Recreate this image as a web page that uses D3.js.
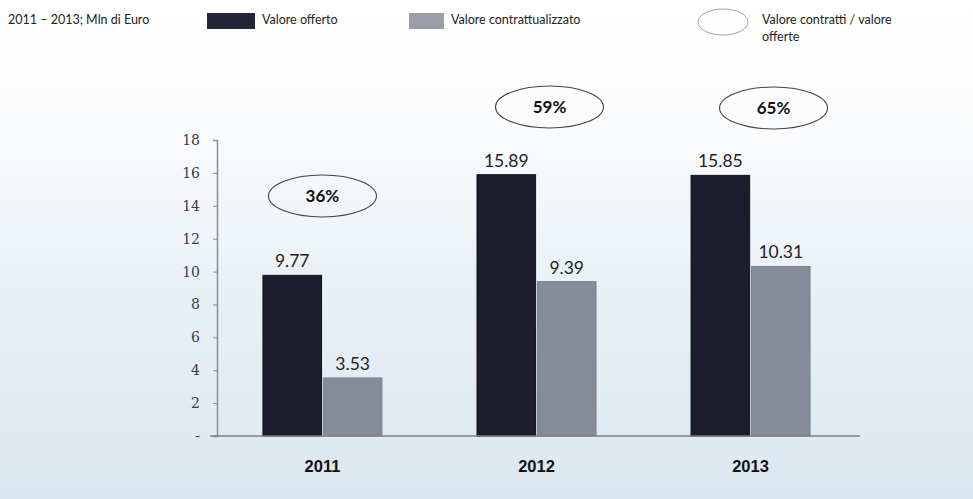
<!DOCTYPE html>
<html><head><meta charset="utf-8">
<script src="https://cdn.jsdelivr.net/npm/d3@7"></script>
<style>body{margin:0;background:#fff}svg{display:block}</style>
</head><body>
<svg id="c" width="973" height="499"></svg>
<script>
const years = ["2011","2012","2013"];
const offerto = [9.77, 15.89, 15.85];
const contratt = [3.53, 9.39, 10.31];
const ratios = ["36%","59%","65%"];
const yTicks = [0,2,4,6,8,10,12,14,16,18];
const seriesNames = ["Valore offerto","Valore contrattualizzato"];

const svg = d3.select("#c");
const defs = svg.append("defs");
const g = defs.append("linearGradient").attr("id","bg").attr("x1",0).attr("y1",0).attr("x2",0).attr("y2",1);
g.append("stop").attr("offset","0%").attr("stop-color","#ffffff");
g.append("stop").attr("offset","25%").attr("stop-color","#fbfcfd");
g.append("stop").attr("offset","60%").attr("stop-color","#e8f0f6");
g.append("stop").attr("offset","100%").attr("stop-color","#dbe7f0");
svg.append("rect").attr("width",973).attr("height",499).attr("fill","url(#bg)");

const y = d3.scaleLinear().domain([0,18]).range([436,140]);
const x0 = d3.scaleBand().domain(years).range([215,858]).paddingInner(0.444).paddingOuter(0.224);
const x1 = d3.scaleBand().domain([0,1]).range([0,x0.bandwidth()]).paddingInner(0.03);
const colors = ["#1c1c2c","#878b99"];

// axes
const yAxis = d3.axisLeft(y).tickValues(yTicks).tickSize(4).tickFormat(d => d===0 ? "-" : d);
const ya = svg.append("g").attr("transform","translate(217,0)").call(yAxis);
ya.select(".domain").attr("stroke","#8a8d95").attr("stroke-width",1.5);
ya.selectAll(".tick line").attr("stroke","#8a8d95");
ya.selectAll(".tick text").attr("font-family","DejaVu Serif, serif").attr("font-size",14).attr("fill","#3a3a44").attr("x",-17);

years.forEach((yr,i)=>{
  const gx = x0(yr);
  [offerto[i], contratt[i]].forEach((v,j)=>{
    svg.append("rect").attr("x",gx+x1(j)).attr("y",y(v)).attr("width",x1.bandwidth()).attr("height",y(0)-y(v))
      .attr("fill",colors[j]).attr("stroke", j===0?"#11111a":"#7c808e").attr("stroke-width",1);
    svg.append("text").attr("x",gx+x1(j)+x1.bandwidth()/2).attr("y",y(v)-8).attr("text-anchor","middle")
      .attr("font-family","Lato, sans-serif").attr("font-size",17.5).attr("fill","#222").text(v.toFixed(2));
  });
  svg.append("text").attr("x",gx+x0.bandwidth()/2).attr("y",472).attr("text-anchor","middle")
    .attr("font-family","Liberation Sans, Arial, sans-serif").attr("font-weight","bold").attr("font-size",16.5).attr("fill","#111").text(yr);
});

// x baseline
svg.append("line").attr("x1",210).attr("x2",860).attr("y1",y(0)).attr("y2",y(0)).attr("stroke","#7d8089").attr("stroke-width",1.5);

// ratio ellipses
const ellY = [196,107,108];
const ellDx = [0,13,23];
years.forEach((yr,i)=>{
  const cx = x0(yr)+x0.bandwidth()/2+ellDx[i];
  svg.append("ellipse").attr("cx",cx).attr("cy",ellY[i]).attr("rx",54).attr("ry",21)
    .attr("fill","none").attr("stroke","#444").attr("stroke-width",1.1);
  svg.append("text").attr("x",cx).attr("y",ellY[i]+6).attr("text-anchor","middle")
    .attr("font-family","Lato, sans-serif").attr("font-weight","bold").attr("font-size",17).attr("fill","#111").text(ratios[i]);
});

// legend
const lf = "Lato, sans-serif";
svg.append("text").attr("x",8).attr("y",24).attr("font-family",lf).attr("font-size",12.5).attr("fill","#222").text("2011 – 2013; Mln di Euro");
svg.append("rect").attr("x",207).attr("y",13).attr("width",48).attr("height",16).attr("fill","#25253a");
svg.append("text").attr("x",262).attr("y",24).attr("font-family",lf).attr("font-size",12.5).attr("fill","#222").text(seriesNames[0]);
svg.append("rect").attr("x",409).attr("y",13).attr("width",35).attr("height",16).attr("fill","#9a9ca6");
svg.append("text").attr("x",451).attr("y",24).attr("font-family",lf).attr("font-size",12.5).attr("fill","#222").text(seriesNames[1]);
svg.append("ellipse").attr("cx",723).attr("cy",22).attr("rx",25).attr("ry",13).attr("fill","none").attr("stroke","#9aa3b0").attr("stroke-width",1);
svg.append("text").attr("x",762).attr("y",24).attr("font-family",lf).attr("font-size",12.5).attr("fill","#222").text("Valore contratti / valore");
svg.append("text").attr("x",762).attr("y",41).attr("font-family",lf).attr("font-size",12.5).attr("fill","#222").text("offerte");
</script>
</body></html>
